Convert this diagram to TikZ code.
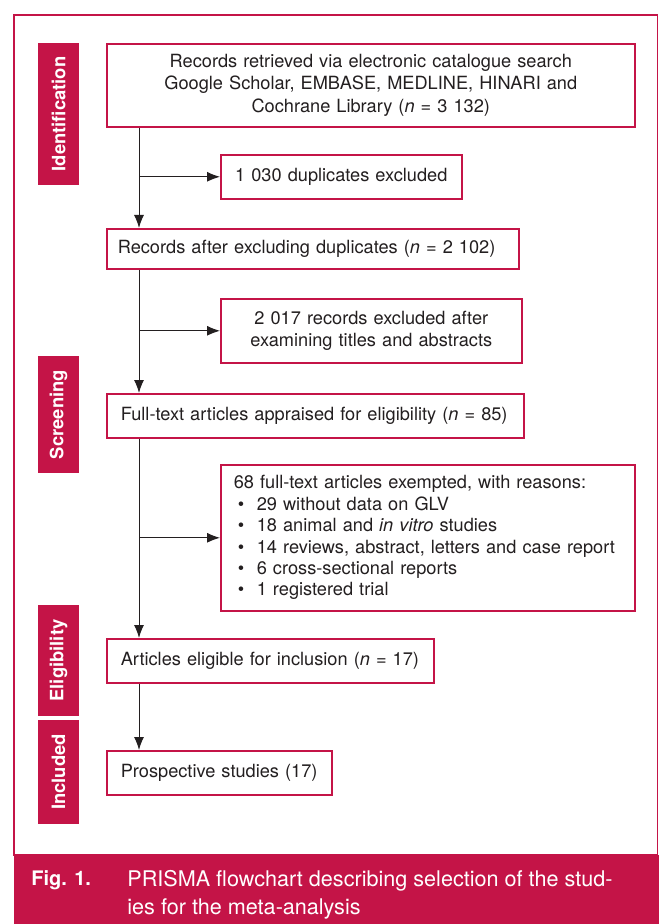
\documentclass[tikz,border=0pt]{standalone}
\usepackage{fontspec}
\setmainfont{TeX Gyre Heros}
\usepackage{tikz}
\usetikzlibrary{positioning,arrows.meta,calc}
\usepackage{xcolor}
\definecolor{crimson}{HTML}{C41447}
\definecolor{inkgray}{HTML}{231F20}

\begin{document}
\begin{tikzpicture}[
    x=0.5pt, y=-0.5pt,
    box/.style={rectangle, draw=crimson, line width=0.8pt, fill=white, text=inkgray, font=\fontsize{9.1}{11.25}\selectfont, inner xsep=7pt, inner ysep=0pt, anchor=north west},
    leftBox/.style={box, align=left},
    midBox/.style={box, align=center},
    phaseTab/.style={rectangle, fill=crimson, text=white, font=\fontsize{9.2}{11}\selectfont\bfseries, rotate=90, minimum height=20.5pt, inner sep=0pt},
    flowArrow/.style={-{Latex[length=6.5pt,width=5pt]}, line width=0.5pt, draw=inkgray},
    capText/.style={text=white, font=\fontsize{10.8}{14}\selectfont, anchor=north west, inner sep=0pt, align=left}
]
    \useasboundingbox (0,0) rectangle (659,924);

    % Frame and caption band
    \draw[crimson, line width=0.8pt] (14,15) rectangle (657.5,855);
    \fill[crimson] (14,855) rectangle (659,924);
    \node[capText, anchor=base west, font=\fontsize{10}{14}\selectfont\bfseries] (figno) at (31,885) {Fig. 1.};
    \node[capText] (figcap) at (127,870) {PRISMA flowchart describing selection of the stud-\\ies for the meta-analysis};

    % Phase tabs
    \node[phaseTab, minimum width=71pt] (tabId) at (58.5,114) {Identification};
    \node[phaseTab, minimum width=58.5pt] (tabScr) at (58.5,414.5) {Screening};
    \node[phaseTab, minimum width=55.5pt] (tabElig) at (58.5,660.5) {Eligibility};
    \node[phaseTab, minimum width=52pt] (tabInc) at (58.5,772) {Included};

    % Node 1: Records retrieved
    \node[midBox, text width=250pt, minimum height=41.5pt] (found) at (106,43) {
        Records retrieved via electronic catalogue search\\
        Google Scholar, EMBASE, MEDLINE, HINARI and\\
        Cochrane Library (\textit{n} = 3 132)};
    \node[midBox, text width=106.5pt, minimum height=22pt] (dupl) at (220,154) {1 030 duplicates excluded};

    % Node 2: After duplicates
    \node[leftBox, text width=195pt, inner xsep=5.5pt, minimum height=20pt] (dedup) at (106,228) {Records after excluding duplicates (\textit{n} = 2 102)};
    \node[midBox, text width=136.5pt, minimum height=32pt] (titles) at (220,298) {
        2 017 records excluded after\\
        examining titles and abstracts};

    % Node 3: Full-text
    \node[leftBox, text width=194.5pt, minimum height=22pt] (fulltext) at (106,393) {Full-text articles appraised for eligibility (\textit{n} = 85)};
    \node[leftBox, text width=194pt, minimum height=73pt, inner xsep=6.5pt, font=\fontsize{9.1}{10.7}\selectfont] (exempt) at (220,464) {
        68 full-text articles exempted, with reasons:\\
        \hspace*{2pt}\makebox[9.5pt][l]{\textbullet}29 without data on GLV\\
        \hspace*{2pt}\makebox[9.5pt][l]{\textbullet}18 animal and \textit{in vitro} studies\\
        \hspace*{2pt}\makebox[9.5pt][l]{\textbullet}14 reviews, abstract, letters and case report\\
        \hspace*{2pt}\makebox[9.5pt][l]{\textbullet}6 cross-sectional reports\\
        \hspace*{2pt}\makebox[9.5pt][l]{\textbullet}1 registered trial};

    % Node 4: Eligible
    \node[leftBox, text width=149.5pt, minimum height=22pt] (eligible) at (106,638) {Articles eligible for inclusion (\textit{n} = 17)};

    % Node 5: Included
    \node[leftBox, text width=98.5pt, minimum height=22pt] (included) at (106,750) {Prospective studies (17)};

    % Trunk and arrows
    \coordinate (trunk) at (139,0);
    \draw[flowArrow] (found.south -| trunk) -- (dedup.north -| trunk);
    \draw[flowArrow] (dupl.west -| trunk) -- (dupl.west);
    \draw[flowArrow] (dedup.south -| trunk) -- (fulltext.north -| trunk);
    \draw[flowArrow] (titles.west -| trunk) -- (titles.west);
    \draw[flowArrow] (fulltext.south -| trunk) -- (eligible.north -| trunk);
    \draw[flowArrow] (exempt.west -| trunk) -- (exempt.west);
    \draw[flowArrow] (eligible.south -| trunk) -- (included.north -| trunk);

\end{tikzpicture}
\end{document}
